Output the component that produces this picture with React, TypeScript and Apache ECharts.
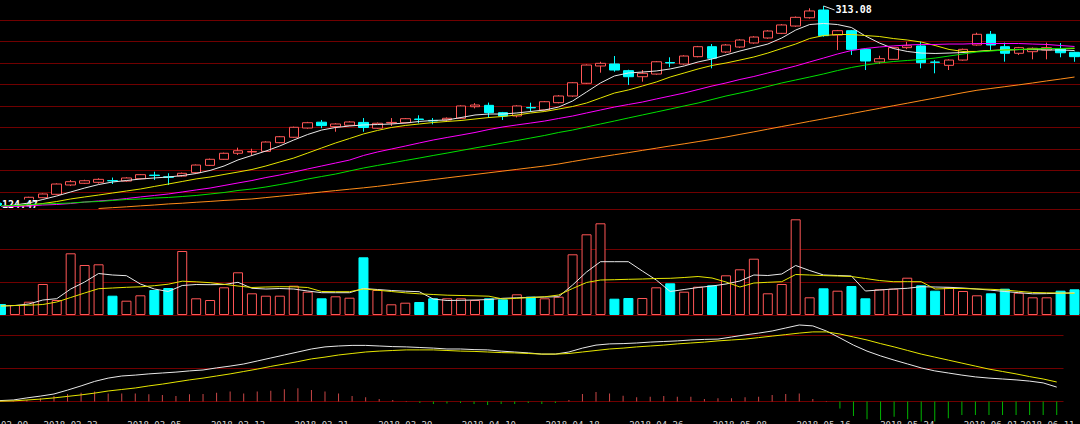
import React, { useEffect, useRef } from "react";
import * as echarts from "echarts";

const dates: string[] = [
  "2018-02-09","2018-02-12","2018-02-13","2018-02-14","2018-02-22","2018-02-23","2018-02-26","2018-02-27","2018-02-28","2018-03-01",
  "2018-03-02","2018-03-05","2018-03-06","2018-03-07","2018-03-08","2018-03-09","2018-03-12","2018-03-13","2018-03-14","2018-03-15",
  "2018-03-16","2018-03-19","2018-03-20","2018-03-21","2018-03-22","2018-03-23","2018-03-26","2018-03-27","2018-03-28","2018-03-29",
  "2018-03-30","2018-04-02","2018-04-03","2018-04-04","2018-04-09","2018-04-10","2018-04-11","2018-04-12","2018-04-13","2018-04-16",
  "2018-04-17","2018-04-18","2018-04-19","2018-04-20","2018-04-23","2018-04-24","2018-04-25","2018-04-26","2018-04-27","2018-05-02",
  "2018-05-03","2018-05-04","2018-05-07","2018-05-08","2018-05-09","2018-05-10","2018-05-11","2018-05-14","2018-05-15","2018-05-16",
  "2018-05-17","2018-05-18","2018-05-21","2018-05-22","2018-05-23","2018-05-24","2018-05-25","2018-05-28","2018-05-29","2018-05-30",
  "2018-05-31","2018-06-01","2018-06-04","2018-06-05","2018-06-06","2018-06-07","2018-06-08","2018-06-11"
];
// the indicator pane holds one more, earlier session
const macdDates: string[] = ["2018-02-08", ...dates];

const openPrices: number[] = [
  126.8,124.5,128.2,132.3,135.5,144.3,145.9,146.8,148.4,148.0,
  150.2,153.6,152.0,152.7,155.9,162.8,168.5,174.2,175.4,176.0,
  184.2,189.3,198.0,203.5,199.3,200.6,203.3,197.8,202.8,203.0,
  206.5,205.2,205.6,207.2,218.1,219.4,212.5,209.4,217.4,215.0,
  221.9,228.2,240.2,256.5,258.4,252.1,246.4,248.9,259.8,258.4,
  265.3,274.7,269.7,274.4,278.2,282.9,287.3,294.2,302.0,309.3,
  285.7,289.8,272.2,260.3,262.8,273.8,275.4,260.2,257.1,262.1,
  276.3,286.4,274.7,268.5,270.0,271.6,272.5,269.4
];
const closePrices: number[] = [
  125.9,128.5,132.7,135.8,145.2,147.4,148.3,149.6,148.2,150.9,
  154.0,153.2,151.5,155.3,163.1,168.5,174.2,176.6,175.9,184.8,
  189.8,198.7,203.0,200.3,201.8,203.7,198.5,202.5,203.3,206.8,
  206.0,204.7,207.2,218.8,219.7,212.5,209.3,218.8,217.0,222.8,
  228.2,240.7,257.4,259.0,252.7,246.4,249.6,260.5,259.3,265.9,
  274.7,263.8,276.3,281.0,283.8,289.5,295.2,302.4,308.4,285.1,
  289.8,272.2,261.2,263.4,273.8,275.6,259.6,260.0,262.1,272.2,
  286.4,276.3,268.5,273.8,273.2,273.8,269.0,265.3
];
const lowPrices: number[] = [
  124.47,124.6,127.8,131.9,135.0,143.3,145.2,145.5,145.2,147.3,
  149.6,149.0,144.3,152.2,155.5,162.2,168.0,172.6,172.0,175.5,
  183.7,188.8,197.4,197.8,194.5,200.0,194.5,197.2,199.9,202.5,
  202.5,201.5,205.0,206.7,216.5,207.5,205.6,208.0,213.4,214.4,
  221.3,227.5,239.5,250.2,251.1,238.6,241.7,248.3,255.3,257.8,
  264.7,254.3,268.8,273.6,277.5,282.2,286.6,293.5,301.2,284.1,
  271.6,266.9,252.7,258.4,262.2,272.4,254.3,249.6,252.7,261.5,
  275.7,271.6,260.6,266.9,262.8,262.8,264.7,260.5
];
const highPrices: number[] = [
  127.6,129.0,133.2,136.3,145.8,149.0,149.2,150.6,151.3,151.6,
  154.6,156.8,155.3,156.0,163.6,169.2,174.8,179.5,178.5,185.4,
  190.5,199.3,203.8,205.6,202.5,204.4,207.4,203.2,207.4,207.4,
  210.0,207.4,208.0,219.4,221.5,222.0,213.2,219.5,221.9,223.5,
  229.0,241.3,258.0,260.5,265.9,253.0,252.7,261.2,264.7,266.6,
  275.4,277.2,277.2,281.8,284.6,290.3,296.0,303.2,310.9,313.08,
  290.5,290.5,272.8,266.2,274.5,279.3,279.4,262.1,262.8,272.9,
  287.9,289.5,278.5,274.5,274.0,278.5,278.1,270.0
];

const ma5: number[] = [
  124.0,125.4,127.3,130.6,133.9,137.7,141.4,144.7,147.1,148.5,
  149.9,150.9,151.8,153.2,155.1,158.0,162.2,167.9,172.1,176.3,
  181.1,186.7,191.9,196.1,198.5,199.9,200.9,201.3,201.8,202.7,
  204.2,205.1,205.6,207.9,210.3,211.2,211.2,212.2,213.6,215.0,
  217.8,223.5,232.0,240.5,247.1,249.9,250.8,251.8,253.7,256.5,
  260.3,263.1,266.9,270.6,273.9,277.2,282.9,290.4,295.6,296.6,
  295.6,292.8,284.8,278.2,273.0,270.2,268.7,268.3,268.7,269.2,
  270.2,271.1,271.6,272.0,272.0,271.6,271.6,271.1
];
const ma10: number[] = [
  124.0,124.5,125.4,126.8,128.7,131.1,133.0,134.8,136.7,138.6,
  140.5,142.9,145.2,147.6,150.0,151.8,154.2,156.5,158.9,162.2,
  166.0,169.7,174.4,179.2,183.9,188.1,192.4,195.7,198.5,200.4,
  201.8,203.2,204.2,205.1,206.5,207.9,208.9,210.3,212.2,213.6,
  215.9,218.3,221.6,226.3,231.0,233.9,237.6,241.4,246.1,249.9,
  253.7,257.0,259.3,262.1,265.0,268.7,273.0,277.2,282.4,285.2,
  286.2,286.2,285.2,284.3,282.4,281.0,279.1,275.8,272.1,270.2,
  270.2,271.1,271.6,272.0,272.5,273.0,273.0,273.0
];
const ma20: number[] = [
  124.0,124.0,124.5,125.4,125.9,126.8,128.2,129.2,130.1,131.5,
  133.0,134.4,135.8,137.7,139.6,141.4,143.8,146.2,148.5,151.3,
  153.7,156.5,159.4,162.2,165.0,167.8,172.1,175.4,178.2,181.0,
  183.9,186.7,189.1,191.4,193.8,196.6,199.0,200.9,202.7,204.6,
  207.0,209.3,212.2,215.0,217.8,220.2,222.5,225.4,228.2,231.0,
  234.3,237.6,240.5,243.8,246.6,249.9,253.2,256.5,260.3,264.0,
  267.8,271.1,273.0,274.4,275.4,276.3,276.8,276.8,277.2,277.2,
  277.7,277.7,277.7,277.7,277.2,276.8,275.8,274.9
];
const ma30: number[] = [
  124.5,124.9,125.9,126.4,126.8,127.3,128.2,128.7,129.7,130.6,
  131.1,132.0,132.5,133.4,134.4,135.8,137.2,139.1,140.5,142.4,
  144.7,147.1,149.9,152.3,154.6,157.5,160.3,162.7,165.0,167.4,
  169.7,172.1,174.4,176.8,179.2,181.5,183.9,186.2,188.6,191.0,
  193.8,196.1,199.0,201.8,204.6,207.5,210.3,213.1,215.9,218.8,
  221.6,224.9,228.2,231.0,233.9,237.2,240.5,243.3,246.1,249.0,
  252.2,255.1,257.4,259.3,260.7,261.7,262.6,264.0,265.9,267.8,
  269.7,270.6,271.6,272.0,272.5,273.0,273.0,273.5
];
const ma60: (number | string)[] = [
  "-","-","-","-","-","-","-",122.1,122.9,123.7,
  124.6,125.4,126.4,127.1,128.0,128.8,129.7,130.4,131.1,132.4,
  133.7,135.0,136.3,137.7,139.0,140.3,141.6,143.0,144.6,146.2,
  147.8,149.4,151.0,152.6,154.2,155.8,157.4,159.0,160.6,162.2,
  164.1,166.4,168.6,170.7,172.8,174.8,176.9,179.0,181.1,183.1,
  185.2,187.3,189.5,192.0,194.4,196.9,199.4,201.8,204.3,206.7,
  209.2,211.6,214.1,216.5,219.0,221.4,223.9,226.3,228.8,231.3,
  233.6,235.3,237.0,238.7,240.5,242.4,244.2,246.1
];

const volume: number[] = [
  11000,10000,13300,31000,15000,61700,50000,50700,19300,14300,
  19700,25000,27000,64000,16700,15000,27700,42700,21700,19300,
  19300,29300,23300,16700,18700,17300,57700,25000,10700,12300,
  13000,16700,16700,16700,15000,16700,15700,20700,18300,16700,
  18300,60700,80700,91700,16300,17000,17000,27700,31700,23300,
  28300,29700,39700,45700,56300,21700,31000,95700,17700,26700,
  24300,29000,16700,25700,26300,37300,29700,24300,27700,24000,
  19700,21700,26300,22300,17700,17700,24300,25700
];
const volMa5: number[] = [
  9000,9500,11000,15000,16300,26000,33000,41500,40000,39300,
  31000,26000,23500,29500,30500,30300,30500,32700,26700,26000,
  26500,26000,24000,22300,22300,22300,26500,25500,24500,23800,
  23300,16000,14500,14700,15000,15500,16700,17200,17700,18000,
  18300,30000,43000,53300,53300,53300,44000,35000,23500,25500,
  27500,29000,31000,34000,40000,39500,41000,49500,44500,40000,
  39500,39000,24000,25000,26000,26700,28300,28000,27700,27000,
  26000,24800,23500,22300,21200,21400,21800,22200
];
const volMa10: number[] = [
  9000,9500,9800,10500,13000,17500,22000,26300,27000,27700,
  28200,29300,30800,33800,33200,32300,30700,29000,27500,28000,
  28300,28200,27500,23500,23300,23300,26000,24800,23500,22200,
  21200,20500,19800,19500,19200,18800,16000,16700,17500,18200,
  20000,26500,32500,35000,35300,35700,36000,36500,36700,37500,
  38500,37000,33000,28000,32000,32700,33300,40500,40000,39400,
  39000,38500,36500,34500,33300,33300,33300,26000,26500,26500,
  26000,25700,25000,23700,22500,22200,22000,21700
];

const dif: number[] = [
  0.3,0.5,1.2,1.8,2.5,3.8,5.2,6.7,7.8,8.5,8.8,
  9.2,9.5,9.8,10.2,10.5,11.2,11.8,12.5,13.5,14.5,
  15.5,16.5,17.5,18.2,18.5,18.7,18.7,18.5,18.3,18.2,
  18.0,17.8,17.5,17.5,17.3,17.2,16.8,16.5,16.2,15.8,
  15.8,16.5,17.8,18.8,19.2,19.3,19.5,19.8,20.0,20.2,
  20.5,20.7,20.8,21.5,22.2,22.8,23.5,24.5,25.5,25.2,
  23.5,21.2,18.8,16.8,15.2,13.8,12.5,11.2,10.2,9.5,
  8.8,8.2,7.8,7.5,7.2,6.8,6.2,4.8
];
const dea: number[] = [
  0.1,0.2,0.5,0.8,1.2,1.7,2.2,2.8,3.5,4.0,4.5,
  5.2,5.8,6.5,7.2,7.8,8.5,9.2,10.0,10.8,11.7,
  12.5,13.3,14.2,14.8,15.5,16.0,16.5,16.8,17.0,17.2,
  17.2,17.2,17.0,16.8,16.7,16.5,16.3,16.2,16.0,15.8,
  15.8,16.0,16.5,17.0,17.5,17.8,18.2,18.5,18.8,19.2,
  19.5,19.8,20.2,20.5,20.8,21.3,21.8,22.3,22.8,23.2,
  23.2,22.5,21.5,20.5,19.3,18.2,17.0,15.8,14.8,13.8,
  12.8,11.8,10.8,10.0,9.2,8.3,7.5,6.5
];
const macdHist: number[] = [
  0,0.3,0.5,1.1,1.8,2.5,2.9,3.3,2.7,2.7,2.7,
  2.4,2.2,1.8,2.4,2.5,2.9,3.3,2.7,3.3,3.6,
  4.1,4.4,3.8,3.3,2.7,1.8,1.4,0.8,0.5,0.2,
  -0.5,-0.8,-0.7,-0.5,-0.8,-1.2,-0.8,-0.8,-0.5,-0.8,
  -0.5,0.5,2.5,3.2,2.7,1.9,1.4,1.6,1.8,1.6,
  1.6,0.8,1.1,1.1,1.4,1.6,2.2,2.5,2.7,0.8,
  0.2,-2.3,-4.8,-5.9,-6.2,-5.1,-5.9,-6.7,-6.7,-5.6,
  -4.5,-4.5,-4.5,-4.5,-4.5,-4.5,-4.5,-4.5
];

const GRID_LINE = "#700000";
const UP = "#ff5656";
const DOWN = "#00ffff";
const MONO = "'DejaVu Sans Mono', 'Liberation Mono', monospace";

export default function App() {
  const ref = useRef<HTMLDivElement>(null);

  useEffect(() => {
    if (!ref.current) return;
    const chart = echarts.init(ref.current, null, { renderer: "svg" });

    const candles = dates.map((_, i) => [openPrices[i], closePrices[i], lowPrices[i], highPrices[i]]);
    const volData = volume.map((v, i) => {
      const up = closePrices[i] >= openPrices[i];
      return {
        value: v,
        itemStyle: up
          ? { color: "#000", borderColor: UP, borderWidth: 1 }
          : { color: DOWN, borderColor: DOWN, borderWidth: 1 },
      };
    });
    const histData = macdHist.map((v) => ({
      value: v,
      itemStyle: { color: v >= 0 ? "#c84646" : "#00b400" },
    }));

    const hiddenX = (gridIndex: number, data: string[]) => ({
      type: "category" as const,
      gridIndex,
      data,
      boundaryGap: true,
      axisLine: { show: false },
      axisTick: { show: false },
      axisLabel: { show: false },
      splitLine: { show: false },
    });

    const line = (name: string, data: any[], color: string, xi: number, yi: number, z = 3) => ({
      name,
      type: "line" as const,
      xAxisIndex: xi,
      yAxisIndex: yi,
      data,
      symbol: "none",
      showSymbol: false,
      z,
      lineStyle: { color, width: 1 },
      silent: true,
    });

    const guideAxis = (gridIndex: number, min: number, max: number, interval: number, extra: any = {}) => ({
      type: "value" as const,
      gridIndex,
      min,
      max,
      interval,
      axisLine: { show: false },
      axisTick: { show: false },
      axisLabel: { show: false },
      splitLine: { show: true, lineStyle: { color: GRID_LINE, width: 1 }, ...(extra.splitLine || {}) },
      ...(extra.axis || {}),
    });

    const gridBase = { outerBoundsMode: "none", containLabel: false };

    chart.setOption({
      animation: false,
      backgroundColor: "#000",
      grid: [
        { ...gridBase, left: -6, width: 1087.5, top: -1.5, height: 210.5 },
        { ...gridBase, left: -6, width: 1087.5, top: 216, height: 99 },
        { ...gridBase, left: -7, width: 1070.5, top: 315, height: 119.5 },
        { ...gridBase, left: -6, width: 1087.5, top: 0, height: 416 },
      ],
      xAxis: [
        hiddenX(0, dates),
        hiddenX(1, dates),
        hiddenX(2, macdDates),
        {
          type: "category",
          gridIndex: 3,
          data: dates,
          boundaryGap: true,
          axisLine: { show: false },
          axisTick: { show: false },
          splitLine: { show: false },
          axisLabel: {
            show: true,
            color: "#d0d0d0",
            fontFamily: MONO,
            fontSize: 9,
            margin: 4,
            interval: (i: number) => i === 0 || i % 6 === 5 || i === dates.length - 1,
            alignMaxLabel: "right",
          },
        },
      ],
      yAxis: [
        { type: "value", gridIndex: 0, min: 121.64, max: 320.15, show: false, scale: true },
        guideAxis(0, 0, 210.5, 21.5, { axis: { inverse: true } }),
        guideAxis(1, 0, 99000, 33000, { splitLine: { showMaxLine: false } }),
        guideAxis(2, -11, 28.833, 11),
        { type: "value", gridIndex: 3, show: false },
      ],
      series: [
        {
          name: "K",
          type: "candlestick",
          xAxisIndex: 0,
          yAxisIndex: 0,
          data: candles,
          barWidth: 10,
          z: 2,
          silent: true,
          itemStyle: {
            color: "#000",
            color0: DOWN,
            borderColor: UP,
            borderColor0: DOWN,
            borderWidth: 1,
          },
        },
        line("MA5", ma5, "#e8e8e8", 0, 0),
        line("MA10", ma10, "#e6e600", 0, 0),
        line("MA20", ma20, "#ff00ff", 0, 0),
        line("MA30", ma30, "#00e000", 0, 0),
        line("MA60", ma60, "#ff8c1a", 0, 0),
        {
          name: "VOL",
          type: "bar",
          xAxisIndex: 1,
          yAxisIndex: 2,
          data: volData,
          barWidth: 10,
          silent: true,
        },
        line("VMA5", volMa5, "#e8e8e8", 1, 2),
        line("VMA10", volMa10, "#e6e600", 1, 2),
        {
          name: "MACD",
          type: "bar",
          xAxisIndex: 2,
          yAxisIndex: 3,
          data: histData,
          barWidth: 1,
          silent: true,
        },
        line("DIF", dif, "#e8e8e8", 2, 3),
        line("DEA", dea, "#e6e600", 2, 3),
      ],
    });

    // value labels at the extreme high / low, placed via the chart's own scale
    const hiIdx = highPrices.indexOf(Math.max(...highPrices));
    const loIdx = lowPrices.indexOf(Math.min(...lowPrices));
    const hp = chart.convertToPixel({ xAxisIndex: 0, yAxisIndex: 0 }, [hiIdx, highPrices[hiIdx]]) as number[];
    const lp = chart.convertToPixel({ xAxisIndex: 0, yAxisIndex: 0 }, [loIdx, lowPrices[loIdx]]) as number[];
    chart.setOption({
      graphic: [
        {
          type: "line",
          z: 10,
          shape: { x1: hp[0], y1: hp[1], x2: hp[0] + 11, y2: hp[1] + 4 },
          style: { stroke: "#e0e0e0", lineWidth: 1 },
        },
        {
          type: "text",
          z: 10,
          x: hp[0] + 12,
          y: hp[1] + 4,
          style: {
            text: highPrices[hiIdx].toFixed(2),
            fill: "#ffffff",
            font: `bold 10px ${MONO}`,
            verticalAlign: "middle",
            align: "left",
          },
        },
        {
          type: "text",
          z: 2.5,
          x: lp[0] + 1,
          y: lp[1] - 1.5,
          style: {
            text: lowPrices[loIdx].toFixed(2),
            fill: "#ffffff",
            font: `bold 10px ${MONO}`,
            verticalAlign: "middle",
            align: "left",
            backgroundColor: "#000",
          },
        },
      ],
    });

    return () => chart.dispose();
  }, []);

  return (
    <div
      ref={ref}
      style={{ position: "fixed", left: 0, top: 0, width: 1080, height: 424, background: "#000" }}
    />
  );
}
